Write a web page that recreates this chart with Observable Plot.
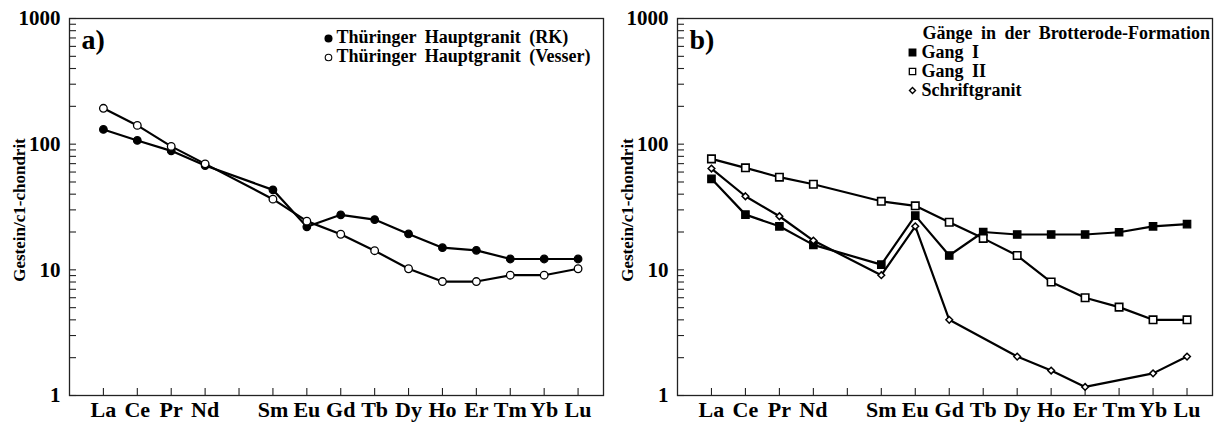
<!DOCTYPE html>
<html>
<head>
<meta charset="utf-8">
<script src="https://cdn.jsdelivr.net/npm/d3@7"></script>
<script src="https://cdn.jsdelivr.net/npm/@observablehq/plot@0.6"></script>
<style>
  body { margin: 0; background: #fff; }
  #wrap { position: relative; width: 1217px; height: 423px; overflow: hidden; }
  #wrap > svg { position: absolute; top: 0; }
  #wrap text { word-spacing: 4px; }
</style>
</head>
<body>
<div id="wrap"></div>
<script>
// ---- data ----
const elementLabels = ["La","Ce","Pr","Nd","","Sm","Eu","Gd","Tb","Dy","Ho","Er","Tm","Yb","Lu"];
// Panel a
const rkValues     = [131, 107, 88.5, 67.6, null, 43.3, 22, 27.4, 25.1, 19.3, 15.0, 14.3, 12.2, 12.2, 12.2];
const vesserValues = [193, 141, 96, 69.7, null, 36.5, 24.4, 19.2, 14.2, 10.2, 8.07, 8.07, 9.06, 9.06, 10.2];
// Panel b
const gang1Values   = [53, 27.5, 22.2, 15.8, null, 11.0, 27, 13, 20, 19.1, 19.1, 19.1, 19.9, 22.2, 23.1];
const gang2Values   = [76.4, 64.8, 54.6, 48, null, 35.1, 32.3, 23.9, 17.8, 13, 8.0, 6.0, 5.05, 4.0, 4.0];
const schriftValues = [64, 38.5, 26.7, 17.1, null, 9.06, 22.2, 4.0, null, 2.04, 1.58, 1.17, null, 1.5, 2.04];

const yLabelValues = [1, 10, 100, 1000];
const yTickValues = [1,2,3,4,5,6,7,8,9,10,20,30,40,50,60,70,80,90,100,200,300,400,500,600,700,800,900,1000];
const yAxisTitle = "Gestein/c1-chondrit";

const legendA = ["Thüringer Hauptgranit (RK)", "Thüringer Hauptgranit (Vesser)"];
const legendBTitle = "Gänge in der Brotterode-Formation";
const legendB = ["Gang I", "Gang II", "Schriftgranit"];

// ---- drawing ----
const FONT = "Liberation Serif";
const H = 423, MT = 18, MB = 28, ML = 69;
const plotH = H - MT - MB;

function toPoints(values) {
  return values.map((v, i) => ({x: i + 1, y: v})).filter(d => d.y != null);
}

function panel({width, marginRight, letter, series, legend}) {
  const plotW = width - ML - marginRight;
  const txt = {fontFamily: FONT, fontWeight: "bold", fill: "#000"};
  const marks = [
    Plot.frame({stroke: "#222", strokeWidth: 1.3}),
    Plot.ruleY(yTickValues, {y: d => d, insetRight: plotW - 7, stroke: "#222", strokeWidth: 1.1}),
    Plot.ruleX(elementLabels.map((d, i) => i + 1), {x: d => d, insetTop: plotH - 7, stroke: "#222", strokeWidth: 1.1}),
    Plot.text(yLabelValues, {y: d => d, text: d => String(d), frameAnchor: "left", textAnchor: "end", lineAnchor: "middle", dx: -9, fontSize: 21, ...txt}),
    Plot.text(elementLabels, {x: (d, i) => i + 1, text: d => d, frameAnchor: "bottom", lineAnchor: "top", dy: 6, fontSize: 22, ...txt}),
    Plot.text([yAxisTitle], {text: d => d, frameAnchor: "left", textAnchor: "middle", lineAnchor: "middle", rotate: -90, dx: -50, dy: 3, fontSize: 17, ...txt}),
    Plot.text([letter], {text: d => d, frameAnchor: "top-left", textAnchor: "start", lineAnchor: "middle", dx: 12, dy: 22, fontSize: 28, ...txt})
  ];
  for (const s of series) {
    const pts = toPoints(s.values);
    marks.push(Plot.line(pts, {x: "x", y: "y", stroke: "#000", strokeWidth: 2.2}));
    marks.push(Plot.dot(pts, {x: "x", y: "y", symbol: s.symbol, r: s.r, fill: s.fill, stroke: "#000", strokeWidth: s.sw}));
  }
  for (const l of legend) marks.push(...l);
  return Plot.plot({
    width, height: H,
    marginLeft: ML, marginRight, marginTop: MT, marginBottom: MB,
    x: {type: "linear", domain: [0, 15.75], axis: null},
    y: {type: "log", domain: [1, 1000], axis: null},
    marks
  });
}

const legTxt = {fontFamily: FONT, fontWeight: "bold", fontSize: 18, fill: "#000", frameAnchor: "top-left", textAnchor: "start", lineAnchor: "middle"};

const svgA = panel({
  width: 608, marginRight: 5, letter: "a)",
  series: [
    {values: rkValues, symbol: "circle", r: 3.8, fill: "#000", sw: 1.2},
    {values: vesserValues, symbol: "circle", r: 3.8, fill: "#fff", sw: 1.3}
  ],
  legend: [
    [Plot.dot([0], {frameAnchor: "top-left", dx: 259, dy: 20, r: 3.3, fill: "#000", stroke: "#000"}),
     Plot.text([legendA[0]], {text: d => d, dx: 267, dy: 19, ...legTxt})],
    [Plot.dot([0], {frameAnchor: "top-left", dx: 259, dy: 39, r: 3.3, fill: "#fff", stroke: "#000", strokeWidth: 1.1}),
     Plot.text([legendA[1]], {text: d => d, dx: 267, dy: 38, ...legTxt})]
  ]
});

const svgB = panel({
  width: 609, marginRight: 5, letter: "b)",
  series: [
    {values: gang1Values, symbol: "square", r: 4.2, fill: "#000", sw: 1.2},
    {values: gang2Values, symbol: "square", r: 4.2, fill: "#fff", sw: 1.6},
    {values: schriftValues, symbol: "diamond2", r: 3.0, fill: "#fff", sw: 1.5}
  ],
  legend: [
    [Plot.text([legendBTitle], {text: d => d, dx: 245, dy: 15, ...legTxt})],
    [Plot.dot([0], {frameAnchor: "top-left", dx: 235, dy: 34, symbol: "square", r: 3.6, fill: "#000", stroke: "#000"}),
     Plot.text([legendB[0]], {text: d => d, dx: 244, dy: 34, ...legTxt})],
    [Plot.dot([0], {frameAnchor: "top-left", dx: 235, dy: 53, symbol: "square", r: 3.6, fill: "#fff", stroke: "#000", strokeWidth: 1.3}),
     Plot.text([legendB[1]], {text: d => d, dx: 244, dy: 53, ...legTxt})],
    [Plot.dot([0], {frameAnchor: "top-left", dx: 235, dy: 72, symbol: "diamond2", r: 2.7, fill: "#fff", stroke: "#000", strokeWidth: 1.4}),
     Plot.text([legendB[2]], {text: d => d, dx: 244, dy: 72, ...legTxt})]
  ]
});

svgA.style.left = "0px";
svgB.style.left = "608px";
document.getElementById("wrap").append(svgA, svgB);
</script>
</body>
</html>
